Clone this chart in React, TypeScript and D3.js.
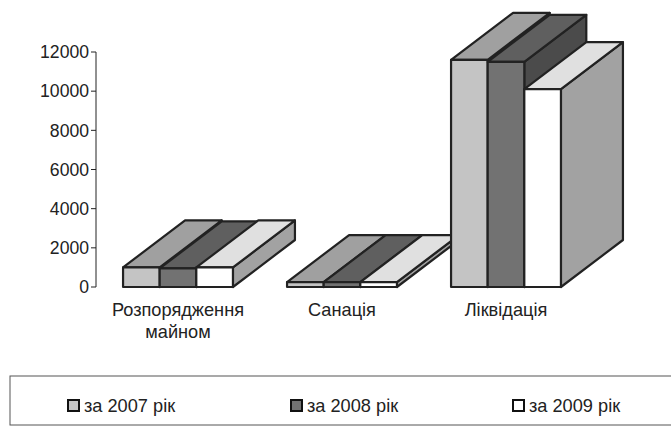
import * as d3 from 'd3';

// chart data
const categories = ['Розпорядження майном', 'Санація', 'Ліквідація'];
const series = ['за 2007 рік', 'за 2008 рік', 'за 2009 рік'];
const values2007 = [1000, 250, 11600];
const values2008 = [950, 250, 11500];
const values2009 = [1000, 250, 10100];
const yTicks = [0, 2000, 4000, 6000, 8000, 10000, 12000];

const seriesValues = [values2007, values2008, values2009];

// front, top, side shades per series
const faceColors = [
  { front: '#c4c4c4', top: '#a0a0a0', side: '#8c8c8c' },
  { front: '#727272', top: '#5f5f5f', side: '#4b4b4b' },
  { front: '#ffffff', top: '#e0e0e0', side: '#a2a2a2' },
];

const W = 671;
const H = 428;
const font = 'Liberation Sans, Arial, sans-serif';

export default function App() {
  const margin = { left: 96, top: 52, bottom: 287 };
  const plotRight = 588;
  const depthX = 62;
  const depthY = -47;

  const x0 = d3.scaleBand<string>().domain(categories).range([margin.left, plotRight]);
  const groupW = x0.bandwidth() * 0.67;
  const x1 = d3.scaleBand<number>().domain([0, 1, 2]).range([0, groupW]);
  const y = d3.scaleLinear().domain([0, 12000]).range([margin.bottom, margin.top]);

  const pts = (p: number[][]) => p.map((q) => q.join(',')).join(' ');

  const bars: JSX.Element[] = [];
  categories.forEach((cat, ci) => {
    const gx = (x0(cat) as number) + (x0.bandwidth() - groupW) / 2;
    seriesValues.forEach((vals, si) => {
      const xl = gx + (x1(si) as number);
      const xr = xl + x1.bandwidth();
      const yt = y(vals[ci]);
      const yb = y(0);
      const c = faceColors[si];
      const common = { stroke: '#222', strokeWidth: 2.2, strokeLinejoin: 'round' as const };
      bars.push(
        <g key={`${ci}-${si}`}>
          <polygon
            points={pts([[xr, yb], [xr, yt], [xr + depthX, yt + depthY], [xr + depthX, yb + depthY]])}
            fill={c.side}
            {...common}
          />
          <polygon
            points={pts([[xl, yt], [xl + depthX, yt + depthY], [xr + depthX, yt + depthY], [xr, yt]])}
            fill={c.top}
            {...common}
          />
          <rect x={xl} y={yt} width={xr - xl} height={yb - yt} fill={c.front} {...common} />
        </g>
      );
    });
  });

  const legendX = [68, 291, 513];

  return (
    <svg
      width={W}
      height={H}
      style={{ position: 'absolute', left: 0, top: 0, background: '#fff' }}
      fontFamily={font}
    >
      {/* y axis */}
      <line x1={margin.left} x2={margin.left} y1={y(12000)} y2={y(0)} stroke="#222" strokeWidth={1} />
      {yTicks.map((t) => (
        <g key={t} transform={`translate(0,${y(t)})`}>
          <line x1={margin.left - 5} x2={margin.left} stroke="#222" strokeWidth={1} />
          <text x={margin.left - 7} dy="0.35em" textAnchor="end" fontSize={17.6} fill="#222">
            {t}
          </text>
        </g>
      ))}

      {bars}

      {/* category labels */}
      {categories.map((cat) => {
        const cx = (x0(cat) as number) + x0.bandwidth() / 2;
        const words = cat === 'Розпорядження майном' ? ['Розпорядження', 'майном'] : [cat];
        return (
          <text key={cat} x={cx} y={316} textAnchor="middle" fontSize={18.2} fill="#222">
            {words.map((w, i) => (
              <tspan key={w} x={cx} dy={i === 0 ? 0 : 22}>
                {w}
              </tspan>
            ))}
          </text>
        );
      })}

      {/* legend */}
      <rect x={10} y={376} width={700} height={49} fill="none" stroke="#555" strokeWidth={1} />
      {series.map((s, i) => (
        <g key={s}>
          <rect x={legendX[i]} y={400} width={11} height={11} fill={faceColors[i].front} stroke="#111" strokeWidth={2} />
          <text x={legendX[i] + 16} y={412} fontSize={18.2} fill="#222">
            {s}
          </text>
        </g>
      ))}
    </svg>
  );
}
